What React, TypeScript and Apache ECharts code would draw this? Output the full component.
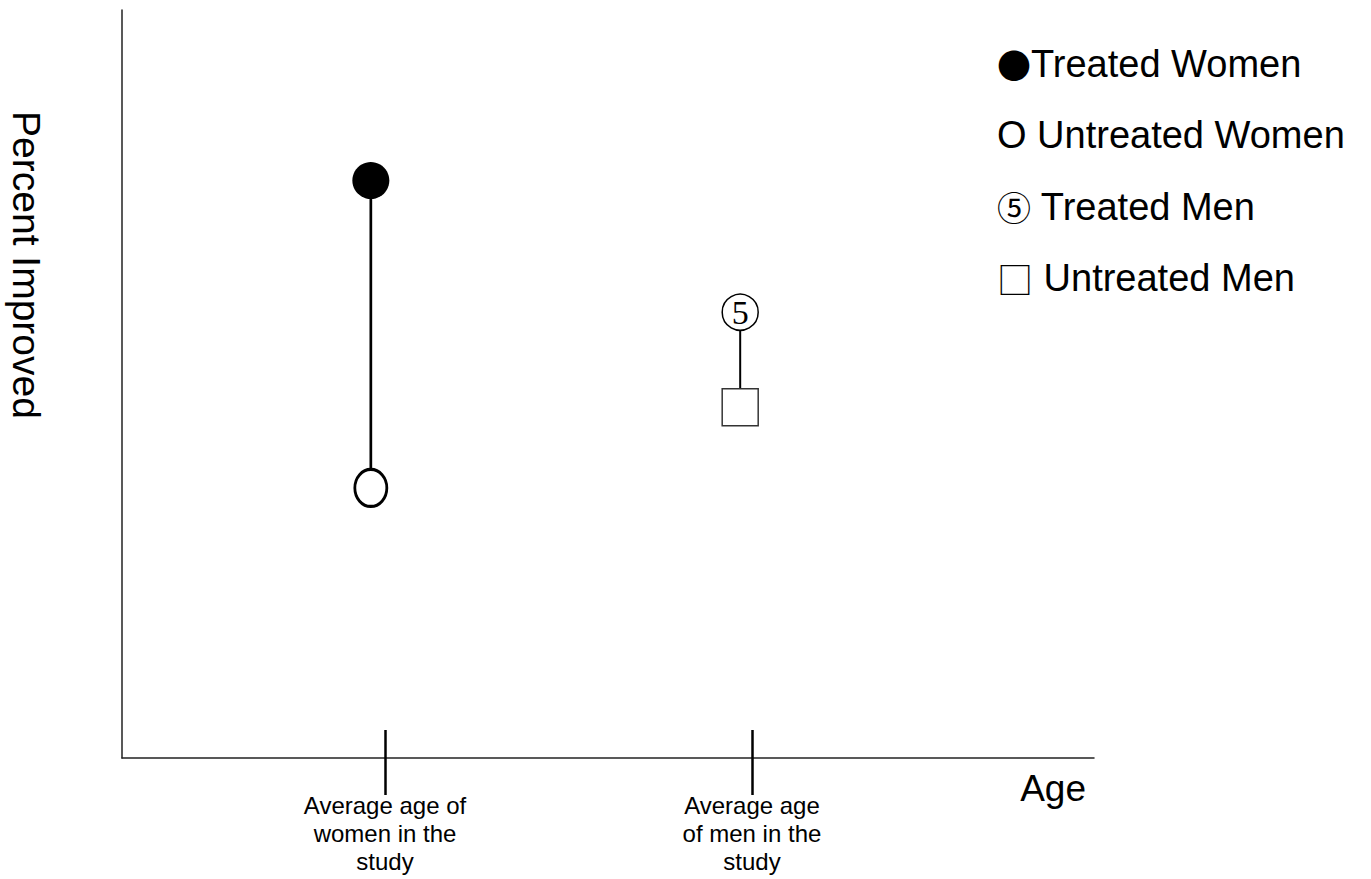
import React, { useEffect, useRef } from "react";
import * as echarts from "echarts";

// ---- data ----
const xTickValues = [27.06, 64.81];
const xTickLabels = [
  "Average age of\nwomen in the\nstudy",
  "Average age\nof men in the\nstudy",
];
const seriesNames = ["Treated Women", "Untreated Women", "Treated Men", "Untreated Men"];
const treatedWomen = [[25.6, 77.2]];
const untreatedWomen = [[25.6, 36.1]];
const treatedMen = [[63.6, 59.6]];
const untreatedMen = [[63.6, 46.9]];

const SANS = "'Liberation Sans', Arial, sans-serif";
const CJK = "'Noto Sans CJK JP', 'DejaVu Sans', sans-serif";

export default function App() {
  const ref = useRef<HTMLDivElement>(null);

  useEffect(() => {
    if (!ref.current) return;
    const chart = echarts.init(ref.current, undefined, { renderer: "svg" });

    const legendText: Record<string, string> = {
      "Treated Women": "{dot|●}Treated Women",
      "Untreated Women": "O Untreated Women",
      "Treated Men": "{c5|⑤} Treated Men",
      "Untreated Men": "{sq|□} Untreated Men",
    };

    const option: any = {
      animation: false,
      backgroundColor: "#ffffff",
      grid: {
        left: 122,
        right: 277,
        top: 10,
        bottom: 121,
        containLabel: false,
        outerBoundsMode: "none",
      },
      legend: {
        orient: "vertical",
        left: 987,
        top: 39,
        selectedMode: false,
        icon: "none",
        itemWidth: 0,
        itemHeight: 40,
        itemGap: 31.3,
        data: seriesNames,
        formatter: (name: string) => legendText[name] || name,
        textStyle: {
          fontFamily: SANS,
          fontSize: 38,
          lineHeight: 40,
          color: "#000",
          rich: {
            dot: { fontFamily: CJK, fontSize: 34, lineHeight: 40, color: "#000" },
            c5: { fontFamily: CJK, fontSize: 34, lineHeight: 40, color: "#000" },
            sq: { fontFamily: CJK, fontSize: 36, lineHeight: 40, color: "#000" },
          },
        },
      },
      xAxis: [
        {
          type: "value",
          min: 0,
          max: 100,
          position: "bottom",
          name: "Age",
          nameLocation: "end",
          nameGap: -8,
          nameTextStyle: {
            fontFamily: SANS,
            fontSize: 37,
            color: "#000",
            align: "right",
            verticalAlign: "top",
            padding: [12, 0, 0, 0],
          },
          axisLine: { show: true, onZero: false, lineStyle: { color: "#222", width: 1.5 } },
          axisTick: {
            show: true,
            inside: true,
            length: 28,
            customValues: xTickValues,
            lineStyle: { color: "#000", width: 2.5 },
          },
          axisLabel: { show: false },
          splitLine: { show: false },
        },
        {
          type: "value",
          min: 0,
          max: 100,
          position: "bottom",
          axisLine: { show: false, onZero: false },
          axisTick: {
            show: true,
            inside: false,
            length: 37,
            customValues: xTickValues,
            lineStyle: { color: "#000", width: 2.5 },
          },
          axisLabel: {
            show: true,
            customValues: xTickValues,
            margin: 33,
            fontFamily: SANS,
            fontSize: 24,
            lineHeight: 28,
            color: "#000",
            align: "center",
            verticalAlign: "top",
            formatter: (_v: number, i: number) => {
              const idx = xTickValues.indexOf(_v);
              return xTickLabels[idx >= 0 ? idx : i] || "";
            },
          },
          splitLine: { show: false },
        },
      ],
      yAxis: {
        type: "value",
        min: 0,
        max: 100,
        name: "Percent Improved",
        nameLocation: "middle",
        nameGap: 76,
        nameRotate: -90,
        nameTextStyle: {
          fontFamily: SANS,
          fontSize: 39,
          color: "#000",
          padding: [0, 238, 0, 0],
        },
        axisLine: { show: true, onZero: false, lineStyle: { color: "#222", width: 1.5 } },
        axisTick: { show: false },
        axisLabel: { show: false },
        splitLine: { show: false },
      },
      series: [
        {
          type: "line",
          name: "women-connector",
          data: [treatedWomen[0], untreatedWomen[0]],
          symbol: "none",
          lineStyle: { color: "#000", width: 2.7 },
          z: 1,
          silent: true,
        },
        {
          type: "line",
          name: "men-connector",
          data: [treatedMen[0], untreatedMen[0]],
          symbol: "none",
          lineStyle: { color: "#000", width: 2 },
          z: 1,
          silent: true,
        },
        {
          type: "scatter",
          name: "Treated Women",
          data: treatedWomen,
          symbol: "circle",
          symbolSize: 37,
          itemStyle: { color: "#000", opacity: 1 },
          z: 3,
        },
        {
          type: "scatter",
          name: "Untreated Women",
          data: untreatedWomen,
          symbol: "path://M0,20A17,20,0,1,1,34,20A17,20,0,1,1,0,20Z",
          symbolSize: [32, 37],
          itemStyle: { color: "#fff", borderColor: "#000", borderWidth: 3, opacity: 1 },
          z: 3,
        },
        {
          type: "scatter",
          name: "Treated Men",
          data: treatedMen,
          symbol: "circle",
          symbolSize: 36,
          itemStyle: { color: "#fff", borderColor: "#000", borderWidth: 1.5, opacity: 1 },
          label: {
            show: true,
            position: "inside",
            formatter: () => "5",
            fontFamily: "'Liberation Serif', 'DejaVu Serif', serif",
            fontSize: 34,
            color: "#000",
          },
          z: 3,
        },
        {
          type: "scatter",
          name: "Untreated Men",
          data: untreatedMen,
          symbol: "rect",
          symbolSize: [36, 37],
          itemStyle: { color: "#fff", borderColor: "#333", borderWidth: 1.5, opacity: 1 },
          z: 3,
        },
      ],
    };

    chart.setOption(option);
    return () => chart.dispose();
  }, []);

  return (
    <div
      ref={ref}
      style={{ position: "fixed", left: 0, top: 0, width: 1371, height: 879, background: "#fff" }}
    />
  );
}
